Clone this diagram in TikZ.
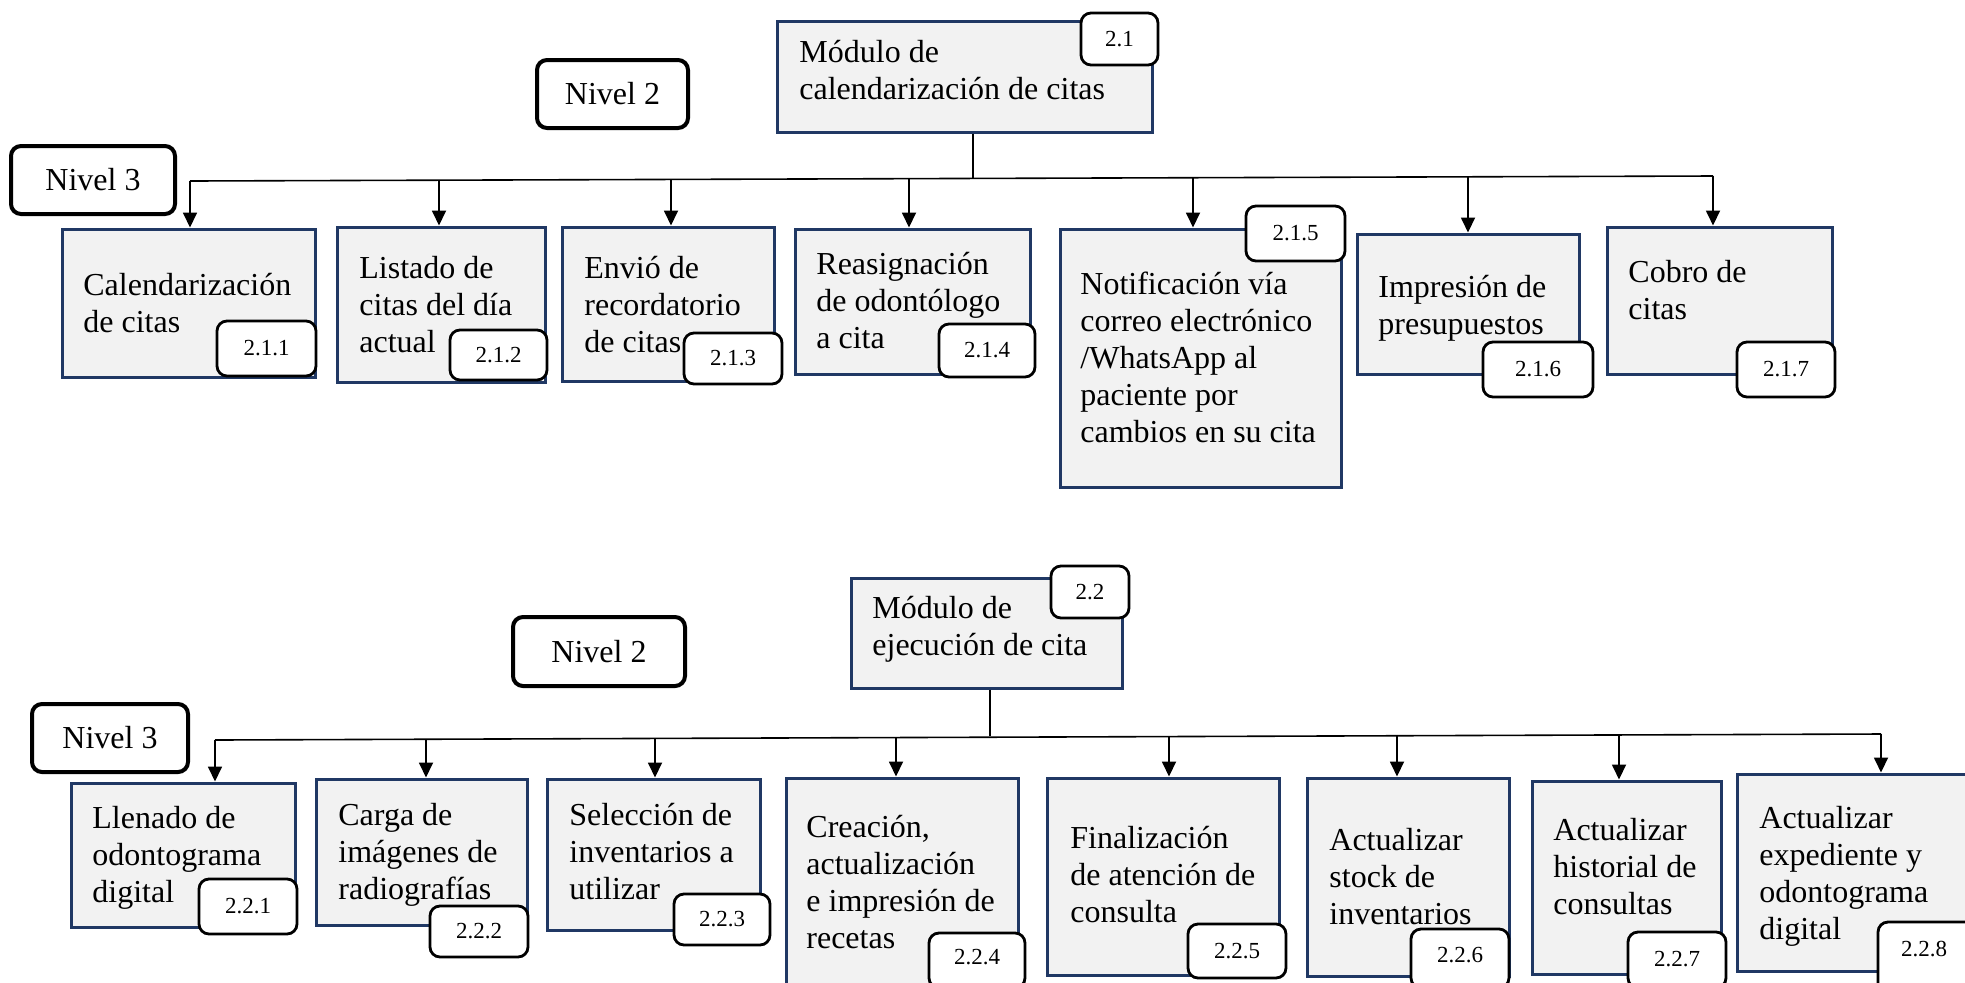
\documentclass[tikz,border=0pt]{standalone}
\usepackage{fontspec}
\setmainfont{Liberation Serif}
\usetikzlibrary{fit,arrows.meta}
\definecolor{navy}{HTML}{203864}
\definecolor{boxfill}{HTML}{F2F2F2}
\tikzset{
  box/.style={draw=navy,fill=boxfill,line width=1.5pt,inner sep=0pt,rectangle},
  num/.style={draw=black,fill=white,line width=1.4pt,rounded corners=5pt,inner sep=0pt},
  numtxt/.style={inner sep=0pt,font=\fontsize{11.5}{13}\selectfont},
  lvl/.style={draw=black,fill=white,line width=2pt,rounded corners=5pt,inner sep=0pt},
  lvltxt/.style={inner sep=0pt,font=\fontsize{16}{18.5}\selectfont},
  txt/.style={anchor=north west,inner sep=0pt,align=left,font=\fontsize{16}{18.5}\selectfont},
  bus/.style={line width=0.8pt},
  arr/.style={line width=0.9pt,-{Triangle[length=7.5pt,width=7pt]}}
}
\begin{document}
\begin{tikzpicture}[x=0.5pt,y=-0.5pt]
\clip (0,0) rectangle (1965,982);
\fill[white] (0,0) rectangle (1965,982);

% ---------- Upper tree ----------
\node[lvl,fit={(537,60) (688,128)},label={[lvltxt]center:Nivel 2}] (lvl2a) {};
\node[lvl,fit={(11,146) (175,214)},label={[lvltxt]center:Nivel 3}] (lvl3a) {};

\node[box,fit={(777,21) (1152,132)}] (m1) {};
\node[txt] (tm1) at (799,36) {\strut Módulo de\\calendarización de citas};
\node[num,fit={(1081,13) (1158,65)},label={[numtxt]center:2.1}] (n21) {};

\node[box,fit={(62,229) (315,377)}] (b211) {};
\node[txt] (t211) at (83,269) {\strut Calendarización\\de citas};
\node[num,fit={(217,321) (316,376)},label={[numtxt]center:2.1.1}] (n211) {};

\node[box,fit={(337,227) (545,382)}] (b212) {};
\node[txt] (t212) at (359,252) {\strut Listado de\\citas del día\\actual};
\node[num,fit={(450,330) (547,380)},label={[numtxt]center:2.1.2}] (n212) {};

\node[box,fit={(562,227) (774,381)}] (b213) {};
\node[txt] (t213) at (584,252) {\strut Envió de\\recordatorio\\de citas};
\node[num,fit={(684,333) (782,384)},label={[numtxt]center:2.1.3}] (n213) {};

\node[box,fit={(795,229) (1030,374)}] (b214) {};
\node[txt] (t214) at (816,248) {\strut Reasignación\\de odontólogo\\a cita};
\node[num,fit={(939,324) (1035,377)},label={[numtxt]center:2.1.4}] (n214) {};

\node[box,fit={(1060,229) (1341,487)}] (b215) {};
\node[txt] (t215) at (1080,268) {\strut Notificación vía\\correo electrónico\\/WhatsApp al\\paciente por\\cambios en su cita};
\node[num,fit={(1246,206) (1345,261)},label={[numtxt]center:2.1.5}] (n215) {};

\node[box,fit={(1357,234) (1579,374)}] (b216) {};
\node[txt] (t216) at (1378,271) {\strut Impresión de\\presupuestos};
\node[num,fit={(1483,342) (1593,397)},label={[numtxt]center:2.1.6}] (n216) {};

\node[box,fit={(1607,227) (1832,374)}] (b217) {};
\node[txt] (t217) at (1628,256) {\strut Cobro de\\citas};
\node[num,fit={(1737,342) (1835,397)},label={[numtxt]center:2.1.7}] (n217) {};

% connectors upper
\coordinate (v1) at (973,178);
\coordinate (busAL) at (190,181);
\coordinate (busAR) at (1713,176);
\draw[bus] (v1 |- m1.south) -- (v1);
\draw[bus] (busAL) -- (busAR);
\coordinate (a1) at (190,181);
\coordinate (a2) at (439,180);
\coordinate (a3) at (671,180);
\coordinate (a4) at (909,179);
\coordinate (a5) at (1193,178);
\coordinate (a6) at (1468,177);
\coordinate (a7) at (1713,176);
\draw[arr] (a1) -- (a1 |- b211.north);
\draw[arr] (a2) -- (a2 |- b212.north);
\draw[arr] (a3) -- (a3 |- b213.north);
\draw[arr] (a4) -- (a4 |- b214.north);
\draw[arr] (a5) -- (a5 |- b215.north);
\draw[arr] (a6) -- (a6 |- b216.north);
\draw[arr] (a7) -- (a7 |- b217.north);

% ---------- Lower tree ----------
\node[lvl,fit={(513,617) (685,686)},label={[lvltxt]center:Nivel 2}] (lvl2b) {};
\node[lvl,fit={(32,704) (188,772)},label={[lvltxt]center:Nivel 3}] (lvl3b) {};

\node[box,fit={(851,578) (1122,688)}] (m2) {};
\node[txt] (tm2) at (872,592) {\strut Módulo de\\ejecución de cita};
\node[num,fit={(1051,566) (1129,618)},label={[numtxt]center:2.2}] (n22) {};

\node[box,fit={(71,783) (295,927)}] (b221) {};
\node[txt] (t221) at (92,802) {\strut Llenado de\\odontograma\\digital};
\node[num,fit={(199,879) (297,934)},label={[numtxt]center:2.2.1}] (n221) {};

\node[box,fit={(316,779) (527,925)}] (b222) {};
\node[txt] (t222) at (338,799) {\strut Carga de\\imágenes de\\radiografías};
\node[num,fit={(430,906) (528,957)},label={[numtxt]center:2.2.2}] (n222) {};

\node[box,fit={(547,779) (760,930)}] (b223) {};
\node[txt] (t223) at (569,799) {\strut Selección de\\inventarios a\\utilizar};
\node[num,fit={(674,894) (770,945)},label={[numtxt]center:2.2.3}] (n223) {};

\node[box,fit={(786,778) (1018,995)}] (b224) {};
\node[txt] (t224) at (806,811) {\strut Creación,\\actualización\\e impresión de\\recetas};
\node[num,fit={(929,933) (1025,988)}] (n224) {};
\node[numtxt] (l224) at (977,957) {2.2.4};

\node[box,fit={(1047,778) (1279,975)}] (b225) {};
\node[txt] (t225) at (1070,822) {\strut Finalización\\de atención de\\consulta};
\node[num,fit={(1188,924) (1286,978)},label={[numtxt]center:2.2.5}] (n225) {};

\node[box,fit={(1307,778) (1509,976)}] (b226) {};
\node[txt] (t226) at (1329,824) {\strut Actualizar\\stock de\\inventarios};
\node[num,fit={(1411,929) (1509,988)}] (n226) {};
\node[numtxt] (l226) at (1460,955) {2.2.6};

\node[box,fit={(1532,781) (1721,974)}] (b227) {};
\node[txt] (t227) at (1553,814) {\strut Actualizar\\historial de\\consultas};
\node[num,fit={(1628,932) (1726,988)}] (n227) {};
\node[numtxt] (l227) at (1677,959) {2.2.7};

\node[box,fit={(1737,774) (1980,971)}] (b228) {};
\node[txt] (t228) at (1759,802) {\strut Actualizar\\expediente y\\odontograma\\digital};
\node[num,fit={(1878,922) (1990,995)}] (n228) {};
\node[numtxt] (l228) at (1924,949) {2.2.8};

% connectors lower
\coordinate (v2) at (990,736);
\coordinate (busBL) at (215,740);
\coordinate (busBR) at (1881,734);
\draw[bus] (v2 |- m2.south) -- (v2);
\draw[bus] (busBL) -- (busBR);
\coordinate (c1) at (215,740);
\coordinate (c2) at (426,739);
\coordinate (c3) at (655,738);
\coordinate (c4) at (896,737);
\coordinate (c5) at (1169,736);
\coordinate (c6) at (1397,735);
\coordinate (c7) at (1619,735);
\coordinate (c8) at (1881,734);
\draw[arr] (c1) -- (c1 |- b221.north);
\draw[arr] (c2) -- (c2 |- b222.north);
\draw[arr] (c3) -- (c3 |- b223.north);
\draw[arr] (c4) -- (c4 |- b224.north);
\draw[arr] (c5) -- (c5 |- b225.north);
\draw[arr] (c6) -- (c6 |- b226.north);
\draw[arr] (c7) -- (c7 |- b227.north);
\draw[arr] (c8) -- (c8 |- b228.north);
\end{tikzpicture}
\end{document}
